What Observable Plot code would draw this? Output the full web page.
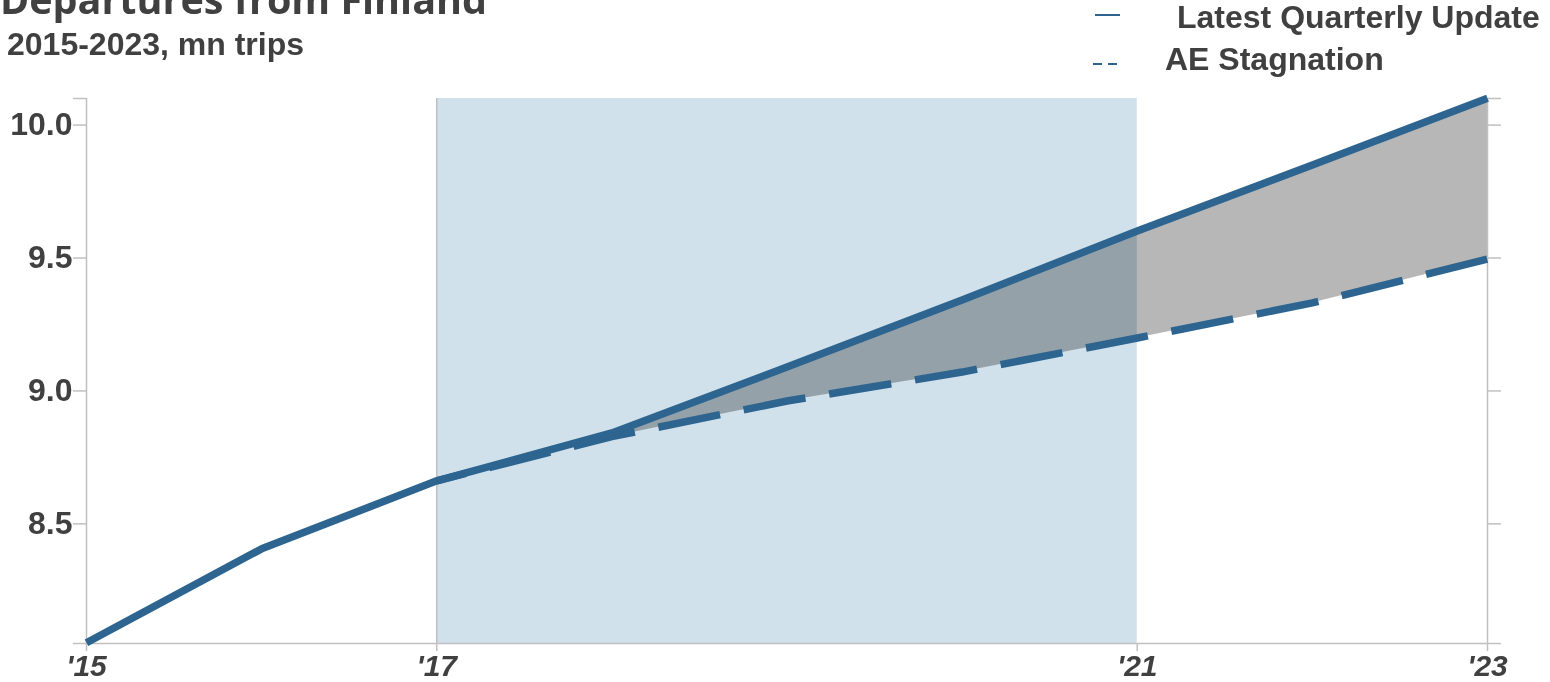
<!DOCTYPE html>
<html>
<head>
<meta charset="utf-8">
<script src="https://cdn.jsdelivr.net/npm/d3@7"></script>
<script src="https://cdn.jsdelivr.net/npm/@observablehq/plot@0.6"></script>
<style>
  html, body { margin: 0; padding: 0; background: #fff; }
  body { width: 1550px; height: 682px; overflow: hidden; position: relative;
         font-family: "Liberation Sans", Arial, sans-serif; color: #404040; }
  .txt { position: absolute; white-space: nowrap; line-height: 1; font-weight: bold; }
  #title { left: 0px; top: -20px; font-family: "Open Sans", sans-serif; font-size: 39.5px; }
  #subtitle { left: 7px; top: 28px; font-size: 32px; }
  #leg1 { left: 1177px; top: 1px; font-size: 32px; }
  #leg2 { left: 1165px; top: 43px; font-size: 32px; }
  .sw { position: absolute; height: 0; }
  #sw1 { left: 1095px; top: 14px; width: 25px; border-top: 2.5px solid #2d6590; }
  #sw2 { left: 1093px; top: 63px; width: 24px; height: 2px;
         background: linear-gradient(to right, #2d6590 0 9px, transparent 9px 15px, #2d6590 15px 24px); }
  #chart { position: absolute; left: 0; top: 80px; }
  #chart g[aria-label="area"] { mix-blend-mode: multiply; }
</style>
</head>
<body>
<div id="title" class="txt">Departures from Finland</div>
<div id="subtitle" class="txt">2015-2023, mn trips</div>
<div id="sw1" class="sw"></div>
<div id="leg1" class="txt">Latest Quarterly Update</div>
<div id="sw2" class="sw"></div>
<div id="leg2" class="txt">AE Stagnation</div>
<div id="chart"></div>
<script>
// ---- data ----
const years = [2015, 2016, 2017, 2018, 2019, 2020, 2021, 2022, 2023];
const latestValues = [8.053, 8.406, 8.662, 8.842, 9.090, 9.342, 9.602, 9.850, 10.101];
const stagnationYears = [2017, 2018, 2019, 2020, 2021, 2022, 2023];
const stagnationValues = [8.662, 8.828, 8.962, 9.071, 9.199, 9.331, 9.496];
const seriesNames = ["Latest Quarterly Update", "AE Stagnation"];
const bandStart = 2017, bandEnd = 2021;
const xTicks = [2015, 2017, 2021, 2023];
const xTickLabels = ["'15", "'17", "'21", "'23"];
const yTicks = [8.5, 9.0, 9.5, 10.0];
const yTickLabels = ["8.5", "9.0", "9.5", "10.0"];
const yDomain = [8.05, 10.1];
const xDomain = [2015, 2023];

const latest = years.map((y, i) => ({year: y, value: latestValues[i]}));
const stagnation = stagnationYears.map((y, i) => ({year: y, value: stagnationValues[i]}));
const gap = stagnationYears.map((y, i) => ({
  year: y, lo: stagnationValues[i], hi: latestValues[years.indexOf(y)]
}));

const lineColor = "#2d6590";
const axisColor = "#c0c0c0";
const textColor = "#404040";

const chart = Plot.plot({
  width: 1550, height: 602,
  marginTop: 18, marginBottom: 39, marginLeft: 86, marginRight: 63,
  style: {fontFamily: "'Liberation Sans', Arial, sans-serif", color: textColor, background: "transparent", overflow: "visible"},
  x: {domain: xDomain, axis: null},
  y: {domain: yDomain, axis: null},
  marks: [
    Plot.rect([{x1: bandStart, x2: bandEnd}], {x1: "x1", x2: "x2", fill: "#d0e1eb"}),
    Plot.areaY(gap, {x: "year", y1: "lo", y2: "hi", fill: "#b7b7b7", mixBlendMode: "multiply"}),
    Plot.ruleX([xDomain[0], bandStart, xDomain[1]], {stroke: axisColor, strokeWidth: 1.5}),
    Plot.ruleY([yDomain[0]], {stroke: axisColor, strokeWidth: 1.5}),
    Plot.axisY({anchor: "left", ticks: yTicks, tickSize: 13, tickPadding: 1,
      tickFormat: d => yTickLabels[yTicks.indexOf(d)],
      stroke: axisColor, strokeWidth: 1.5, fill: textColor, fontSize: 32, fontWeight: "bold", label: null}),
    Plot.axisY({anchor: "left", ticks: yDomain, tickSize: 13, tickFormat: () => "",
      stroke: axisColor, strokeWidth: 1.5, label: null}),
    Plot.axisY({anchor: "right", ticks: yTicks.concat(yDomain), tickSize: 13, tickFormat: () => "",
      stroke: axisColor, strokeWidth: 1.5, label: null}),
    Plot.axisX({anchor: "bottom", ticks: xTicks, tickSize: 8, tickPadding: 3,
      tickFormat: d => xTickLabels[xTicks.indexOf(d)],
      stroke: axisColor, strokeWidth: 1.5, fill: textColor, fontSize: 30, fontWeight: "bold", fontStyle: "italic", label: null}),
    Plot.line(stagnation, {x: "year", y: "value", stroke: lineColor, strokeWidth: 7.5,
      strokeDasharray: "63,24", strokeDashoffset: 33, strokeLinecap: "butt", strokeLinejoin: "round"}),
    Plot.line(latest, {x: "year", y: "value", stroke: lineColor, strokeWidth: 7.5,
      strokeLinecap: "butt", strokeLinejoin: "round"})
  ]
});
document.getElementById("chart").appendChild(chart);
</script>
</body>
</html>
